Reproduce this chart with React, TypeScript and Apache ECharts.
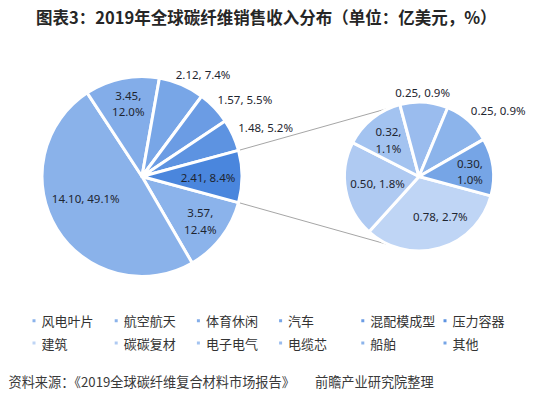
import React, { useEffect, useRef } from "react";
import * as echarts from "echarts";

// ---------- data ----------
const mainNames = ["风电叶片", "航空航天", "体育休闲", "汽车", "混配模成型", "压力容器"];
const mainValues = [3.57, 14.1, 3.45, 2.12, 1.57, 1.48];
const mainPercents = [12.4, 49.1, 12.0, 7.4, 5.5, 5.2];

const otherName = "其他合计"; // aggregated slice that is broken out into the second pie
const otherValue = 2.41;
const otherPercent = 8.4;

const subNames = ["建筑", "碳碳复材", "电子电气", "电缆芯", "船舶", "其他"];
const subValues = [0.78, 0.5, 0.32, 0.25, 0.25, 0.3];
const subPercents = [2.7, 1.8, 1.1, 0.9, 0.9, 1.0];

const titleText = "图表3：2019年全球碳纤维销售收入分布（单位：亿美元，%）";
const sourceText1 = "资料来源：《2019全球碳纤维复合材料市场报告》";
const sourceText2 = "前瞻产业研究院整理";

// ---------- styles / layout ----------
const W = 534;
const H = 393;
const mainColors = ["#8BB3EB", "#8AB2EA", "#83ADE9", "#78A6E7", "#6B9CE4", "#5D93E1"];
const otherColor = "#4A86DD";
const subColors = ["#BFD5F5", "#AFCAF2", "#A3C3F0", "#9ABCEE", "#8CB4EB", "#76A5E6"];

const BORDER = 3;
const leftCenter = [142, 176.5];
const leftR = 100;
const rightCenter = [419, 176.5];
const rightR = 74.5;
const connectorAngle = 113; // where connector lines meet the second pie

// label placement relative to each slice: fraction of radius, angular shift, wrapped
const mainLabelPlace = [
  { rf: 0.746, shift: 0, wrap: true },
  { rf: 0.615, shift: -9.9, wrap: false },
  { rf: 0.756, shift: -1, wrap: true },
  { rf: 1.21, shift: -7.5, wrap: false },
  { rf: 1.307, shift: -6.6, wrap: false },
  { rf: 1.349, shift: -2.9, wrap: false },
  { rf: 0.67, shift: -1, wrap: false },
];
const subLabelPlace = [
  { rf: 0.623, shift: 11.6, wrap: false },
  { rf: 0.576, shift: -1.1, wrap: false },
  { rf: 0.653, shift: 1, wrap: true },
  { rf: 1.149, shift: 1.4, wrap: false },
  { rf: 1.411, shift: -8.9, wrap: false },
  { rf: 0.7, shift: -2, wrap: true },
];

const RAD = Math.PI / 180;
const sum = (a: number[]) => a.reduce((s, v) => s + v, 0);

function midAngles(values: number[], start: number) {
  const total = sum(values);
  let cum = 0;
  return values.map((v) => {
    const m = start - ((cum + v / 2) / total) * 360;
    cum += v;
    return m;
  });
}

function buildOption() {
  const leftValues = [...mainValues, otherValue];
  const leftPercents = [...mainPercents, otherPercent];
  const leftNames = [...mainNames, otherName];
  const leftColors = [...mainColors, otherColor];
  const leftTotal = sum(leftValues);
  const otherAngle = (otherValue / leftTotal) * 360;
  const startAngle = -otherAngle / 2; // "other" slice centred at 3 o'clock

  const leftMids = midAngles(leftValues, startAngle);
  const rightMids = midAngles(subValues, startAngle);

  const labelPos = (
    center: number[],
    r: number,
    mids: number[],
    place: { rf: number; shift: number }[]
  ) => (params: any) => {
    const i = params.dataIndex;
    const a = (mids[i] + place[i].shift) * RAD;
    const d = place[i].rf * r;
    return {
      x: center[0] + d * Math.cos(a),
      y: center[1] - d * Math.sin(a),
      align: "center",
      verticalAlign: "middle",
    };
  };

  const fmt = (vals: number[], pcts: number[], place: { wrap: boolean }[]) => (p: any) => {
    const i = p.dataIndex;
    return vals[i].toFixed(2) + "," + (place[i].wrap ? "\n" : " ") + pcts[i].toFixed(1) + "%";
  };

  const labelStyle = {
    show: true,
    position: "inside",
    color: "#1E2530",
    fontSize: 11.5,
    fontFamily: "Noto Sans",
    lineHeight: 16.5,
  };

  const lx = leftCenter[0] + leftR * Math.cos((otherAngle / 2) * RAD);
  const ly = leftR * Math.sin((otherAngle / 2) * RAD);
  const rx = rightCenter[0] + rightR * Math.cos(connectorAngle * RAD);
  const ry = rightR * Math.sin(connectorAngle * RAD);

  const legendCommon = {
    orient: "horizontal",
    left: 30.5,
    padding: 0,
    itemGap: 0,
    itemWidth: 5,
    itemHeight: 5,
    icon: "rect",
    selectedMode: false,
    textStyle: {
      fontSize: 13,
      fontFamily: "Noto Sans CJK SC",
      color: "#333333",
      width: 71.2,
      lineHeight: 16,
    },
  };

  const sourceFont = "13.2px 'Noto Sans CJK SC'";

  return {
    animation: false,
    backgroundColor: "#ffffff",
    legend: [
      { ...legendCommon, top: 312.7, data: mainNames },
      { ...legendCommon, top: 335, data: subNames },
    ],
    graphic: [
      {
        type: "text",
        x: 36,
        y: 16.7,
        style: {
          text: titleText,
          fill: "#262626",
          font: "bold 16.5px 'Noto Sans CJK SC'",
          align: "left",
          verticalAlign: "middle",
        },
      },
      {
        type: "text",
        x: 8.5,
        y: 381.7,
        style: {
          text: sourceText1,
          fill: "#3A3A3A",
          font: sourceFont,
          align: "left",
          verticalAlign: "middle",
        },
      },
      {
        type: "text",
        x: 315,
        y: 381.7,
        style: {
          text: sourceText2,
          fill: "#3A3A3A",
          font: sourceFont,
          align: "left",
          verticalAlign: "middle",
        },
      },
      {
        type: "line",
        z: -1,
        shape: { x1: lx, y1: leftCenter[1] - ly, x2: rx, y2: rightCenter[1] - ry },
        style: { stroke: "#A6A6A6", lineWidth: 1 },
      },
      {
        type: "line",
        z: -1,
        shape: { x1: lx, y1: leftCenter[1] + ly, x2: rx, y2: rightCenter[1] + ry },
        style: { stroke: "#A6A6A6", lineWidth: 1 },
      },
    ],
    series: [
      {
        type: "pie",
        name: "main",
        center: leftCenter,
        radius: leftR,
        startAngle: 360 + startAngle,
        clockwise: true,
        avoidLabelOverlap: false,
        itemStyle: { borderColor: "#ffffff", borderWidth: BORDER },
        emphasis: { disabled: true },
        label: { ...labelStyle, formatter: fmt(leftValues, leftPercents, mainLabelPlace) },
        labelLine: { show: false },
        labelLayout: labelPos(leftCenter, leftR - BORDER / 2, leftMids, mainLabelPlace),
        data: leftValues.map((v, i) => ({
          name: leftNames[i],
          value: v,
          itemStyle: { color: leftColors[i] },
        })),
      },
      {
        type: "pie",
        name: "sub",
        center: rightCenter,
        radius: rightR,
        startAngle: 360 + startAngle,
        clockwise: true,
        avoidLabelOverlap: false,
        itemStyle: { borderColor: "#ffffff", borderWidth: BORDER },
        emphasis: { disabled: true },
        label: { ...labelStyle, formatter: fmt(subValues, subPercents, subLabelPlace) },
        labelLine: { show: false },
        labelLayout: labelPos(rightCenter, rightR - BORDER / 2, rightMids, subLabelPlace),
        data: subValues.map((v, i) => ({
          name: subNames[i],
          value: v,
          itemStyle: { color: subColors[i] },
        })),
      },
    ],
  };
}

export default function App() {
  const ref = useRef<HTMLDivElement>(null);
  useEffect(() => {
    document.body.style.margin = "0";
    const chart = echarts.init(ref.current as HTMLDivElement, null, {
      renderer: "svg",
      width: W,
      height: H,
    });
    chart.setOption(buildOption() as any);
    return () => chart.dispose();
  }, []);
  return <div ref={ref} style={{ width: W, height: H }} />;
}
